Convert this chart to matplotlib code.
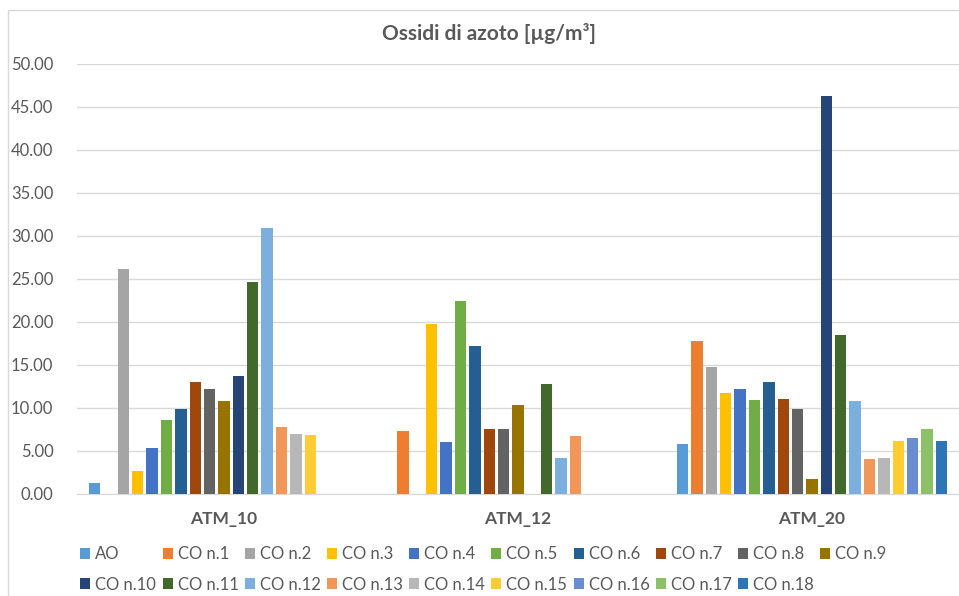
import numpy as np
import matplotlib.pyplot as plt
from matplotlib.patches import Rectangle

plt.rcParams['font.family'] = ['Lato', 'DejaVu Sans']

nan = np.nan
categories = ['ATM_10', 'ATM_12', 'ATM_20']
series = ['AO'] + ['CO n.%d' % i for i in range(1, 19)]

# one value per series (AO, CO n.1 ... CO n.18), blank where not measured
atm_10 = [1.3, nan, 26.1, 2.7, 5.4, 8.6, 9.9, 13.0, 12.2, 10.8,
          13.7, 24.6, 30.9, 7.8, 7.0, 6.9, nan, nan, nan]
atm_12 = [nan, 7.3, nan, 19.7, 6.0, 22.4, 17.2, 7.6, 7.5, 10.3,
          nan, 12.8, 4.2, 6.7, nan, nan, nan, nan, nan]
atm_20 = [5.8, 17.8, 14.7, 11.7, 12.2, 10.9, 13.0, 11.0, 9.9, 1.7,
          46.2, 18.5, 10.8, 4.1, 4.2, 6.1, 6.5, 7.5, 6.2]

colors = ['#5B9BD5', '#ED7D31', '#A5A5A5', '#FFC000', '#4472C4', '#70AD47',
          '#255E91', '#9E480E', '#636363', '#997300', '#264478', '#43682B',
          '#7CAFDD', '#F1975A', '#B7B7B7', '#FFCD33', '#698ED0', '#8CC168',
          '#2E75B6']

values = np.array([atm_10, atm_12, atm_20])  # shape (3, 19)

fig = plt.figure(figsize=(9.59, 5.96), dpi=100)
ax = fig.add_axes([77 / 959, 1 - 494 / 596, 1 - 77 / 959, (494 - 63.5) / 596])

x = np.arange(len(categories))
slot = 0.0489
barw = 0.039
n = len(series)
bars = []
for j, name in enumerate(series):
    b = ax.bar(x + (j - (n - 1) / 2) * slot, values[:, j], width=barw,
               color=colors[j], label=name, zorder=3)
    bars.append(b)

ax.set_xlim(-0.5, 2.5)
ax.set_ylim(0, 50)
ax.set_yticks(np.arange(0, 50.1, 5))
ax.set_yticklabels(['%.2f' % v for v in np.arange(0, 50.1, 5)])
ax.yaxis.grid(True, color='#D9D9D9', linewidth=1, zorder=0)
for s in ['left', 'right', 'top']:
    ax.spines[s].set_visible(False)
ax.spines['bottom'].set_color('#D9D9D9')
ax.tick_params(axis='both', length=0, colors='#595959', labelsize=12)
ax.tick_params(axis='y', pad=17)
ax.tick_params(axis='x', pad=12)
ax.set_xticks(x)
ax.set_xticklabels(categories, fontweight='bold', fontsize=12.5)

fig.text(489 / 959, 1 - 33 / 596, 'Ossidi di azoto [µg/m³]', ha='center',
         va='center', fontsize=15, fontweight='bold', color='#595959')

# legend reads across rows: 10 entries on the first, 9 on the second
ncol = 10
order = []
for c in range(ncol):
    order.append(c)
    if c + ncol < n:
        order.append(c + ncol)
leg = fig.legend([bars[i] for i in order], [series[i] for i in order],
                 loc='upper left', bbox_to_anchor=(72 / 959, 1 - 538 / 596),
                 ncol=ncol, frameon=False, fontsize=12, handlelength=0.6,
                 handleheight=0.6, handletextpad=0.3, columnspacing=0.38,
                 labelspacing=0.85, borderpad=0)
for t in leg.get_texts():
    t.set_color('#595959')

# outer chart frame
fig.patches.append(Rectangle((8 / 959, -0.1), 1.2, 1 - 10 / 596 + 0.1,
                             transform=fig.transFigure, fill=False,
                             edgecolor='#D9D9D9', linewidth=1))

fig.savefig('out.png', dpi=100)
